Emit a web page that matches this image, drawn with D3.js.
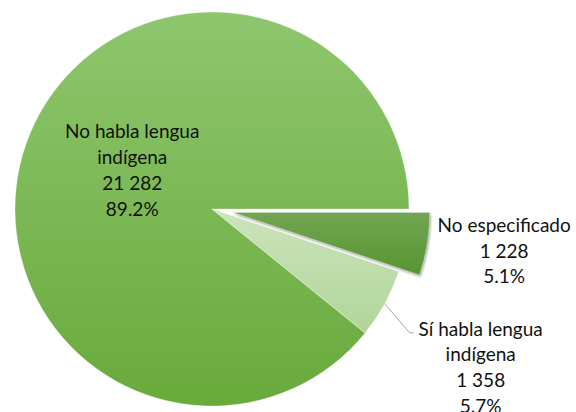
<!DOCTYPE html>
<html>
<head>
<meta charset="utf-8">
<script src="https://cdn.jsdelivr.net/npm/d3@7"></script>
<style>
  body { margin: 0; background: #fff; }
  text { font-family: Lato, "DejaVu Sans", sans-serif; font-size: 19px; fill: #111; }
</style>
</head>
<body>
<div id="chart"></div>
<script>

  // data, in the order the slices go round from 3 o'clock
  var categories = ["No especificado", "Sí habla lengua indígena", "No habla lengua indígena"];
  var values = [1228, 1358, 21282];
  var percents = ["5.1%", "5.7%", "89.2%"];
  var labelLines = [["No especificado"], ["Sí habla lengua", "indígena"], ["No habla lengua", "indígena"]];

  var width = 576, height = 412;
  var cx = 212, cy = 209, radius = 197;
  var lineHeight = 25.7;

  var fmt = d3.formatLocale({ decimal: ".", thousands: " ", grouping: [3], currency: ["", ""] }).format(",");

  // styling per slice (same order as categories)
  var gradients = [["#72a553", "#57952f"], ["#cce4bc", "#b0d599"], ["#8ec66e", "#69aa3b"]];
  var explode = [21, 0, 0];

  var svg = d3.select("#chart").append("svg")
    .attr("width", width)
    .attr("height", height);

  var defs = svg.append("defs");
  gradients.forEach(function(g, i) {
    var lg = defs.append("linearGradient")
      .attr("id", "grad" + i)
      .attr("x1", 0).attr("y1", 0).attr("x2", 0).attr("y2", 1);
    lg.append("stop").attr("offset", "0%").attr("stop-color", g[0]);
    lg.append("stop").attr("offset", "100%").attr("stop-color", g[1]);
  });

  var shadow = defs.append("filter").attr("id", "shadow")
    .attr("x", "-10%").attr("y", "-10%").attr("width", "130%").attr("height", "140%");
  shadow.append("feDropShadow")
    .attr("dx", 1).attr("dy", 1.5).attr("stdDeviation", 1.3)
    .attr("flood-color", "#555").attr("flood-opacity", 0.55);

  var pie = d3.pie()
    .sort(null)
    .startAngle(Math.PI / 2)
    .endAngle(Math.PI / 2 + 2 * Math.PI);

  var arcs = pie(values);

  var arc = d3.arc().innerRadius(0).outerRadius(radius);

  var g = svg.append("g").attr("transform", `translate(${cx}, ${cy})`);

  function offset(d, i) {
    var a = (d.startAngle + d.endAngle) / 2;
    return [Math.sin(a) * explode[i], -Math.cos(a) * explode[i]];
  }

  // draw big slice first, exploded one last so its shadow sits on top
  var drawOrder = [2, 1, 0];
  drawOrder.forEach(function(i) {
    var d = arcs[i];
    var o = offset(d, i);
    g.append("path")
      .attr("d", arc(d))
      .attr("transform", `translate(${o[0]}, ${o[1]})`)
      .attr("fill", "url(#grad" + i + ")")
      .attr("stroke", "#ffffff")
      .attr("stroke-opacity", 0.5)
      .attr("stroke-width", 0.6)
      .attr("filter", explode[i] > 0 ? "url(#shadow)" : null);
  });

  //=========================================================================
  // Labels
  //=========================================================================
  function drawLabel(x, yFirst, lines) {
    var t = g.append("text").attr("text-anchor", "middle");
    lines.forEach(function(s, k) {
      t.append("tspan").attr("x", x).attr("y", yFirst + k * lineHeight).text(s);
    });
  }

  function midAngle(d) { return (d.startAngle + d.endAngle) / 2; }

  // inside label for the large slice
  (function() {
    var i = 2, d = arcs[i];
    var c = d3.arc().innerRadius(0).outerRadius(radius * 0.87).centroid(d);
    var lines = labelLines[i].concat([fmt(values[i]), percents[i]]);
    drawLabel(c[0] + 1, c[1] - 42, lines);
  })();

  // outside label for the exploded slice
  (function() {
    var i = 0, d = arcs[i];
    var a = midAngle(d);
    var o = offset(d, i);
    var px = Math.sin(a) * radius + o[0], py = -Math.cos(a) * radius + o[1];
    var lines = labelLines[i].concat([fmt(values[i]), percents[i]]);
    drawLabel(px + 77, py - 12, lines);
  })();

  // outside label with leader line
  (function() {
    var i = 1, d = arcs[i];
    var a = midAngle(d);
    var px = Math.sin(a) * radius, py = -Math.cos(a) * radius;
    var bx = px + 25, by = py + 29;
    g.append("polyline")
      .attr("points", [[px, py], [bx, by], [bx + 4, by]].map(function(p) { return p.join(","); }).join(" "))
      .attr("fill", "none")
      .attr("stroke", "#a6a6a6")
      .attr("stroke-width", 1);
    var lines = labelLines[i].concat([fmt(values[i]), percents[i]]);
    drawLabel(bx + 71, by + 3, lines);
  })();

</script>
</body>
</html>
